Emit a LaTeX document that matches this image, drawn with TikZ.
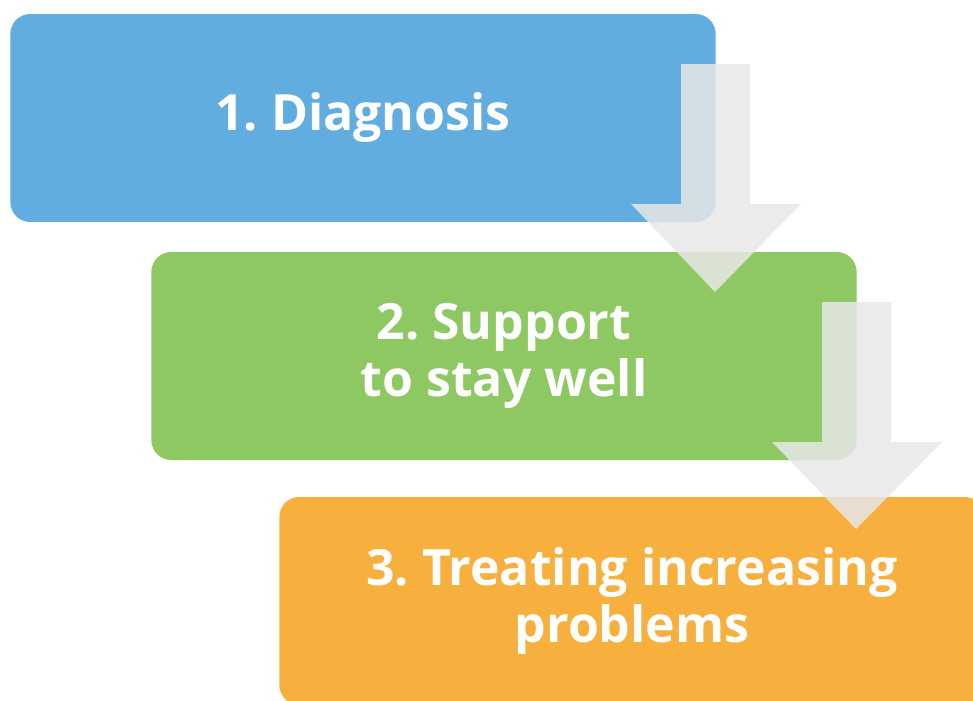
\documentclass[tikz,border=0pt]{standalone}
\usepackage{fontspec}
\setmainfont{Open Sans}
\usepackage{tikz}

\definecolor{stepblue}{RGB}{98,173,223}
\definecolor{stepgreen}{RGB}{141,200,98}
\definecolor{steporange}{RGB}{247,176,62}
\definecolor{arrowgray}{RGB}{231,231,231}

\begin{document}
\frenchspacing
\begin{tikzpicture}[x=0.75pt, y=-0.75pt,
    stepbox/.style={rounded corners=15pt, minimum width=529pt, minimum height=156pt,
        inner sep=0pt, align=center, text=white, font=\fontsize{37.5}{43}\selectfont\bfseries},
    blockarrow/.style={fill=arrowgray, fill opacity=0.85, draw=none}]
        \useasboundingbox (0,0) rectangle (973,700);
        \clip (0,0) rectangle (973,700);

        % Step boxes
        \node[stepbox, fill=stepblue] (diag) at (363,118) {1. Diagnosis};
        \node[stepbox, fill=stepgreen] (supp) at (504,356) {2. Support\\to stay well};
        \node[stepbox, fill=steporange] (treat) at (632,601) {3. Treating increasing\\problems};

        % Arrow from step 1 to step 2
        \coordinate (a1) at (715,292);
        \fill[blockarrow] (681,64) -- (750,64) -- (750,204) -- (801,204) -- (a1)
            -- (631,204) -- (681,204) -- cycle;

        % Arrow from step 2 to step 3
        \coordinate (a2) at (856,529);
        \fill[blockarrow] (822,302) -- (891,302) -- (891,442) -- (942,442) -- (a2)
            -- (772,442) -- (822,442) -- cycle;
    \end{tikzpicture}
\end{document}
